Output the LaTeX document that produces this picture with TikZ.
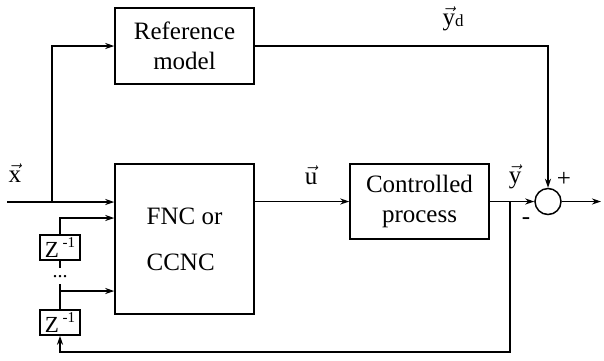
\documentclass[tikz,border=0pt]{standalone}
\usepackage{amsmath}
\usepackage{fontspec}
\setmainfont{Liberation Serif}
\usetikzlibrary{arrows.meta}
\tikzset{
  blk/.style={draw, line width=1.5pt, rectangle, inner sep=0pt, font=\fontsize{25}{30}\selectfont, align=center},
  zbox/.style={draw, line width=1.5pt, rectangle, inner sep=0pt, minimum width=40pt, minimum height=25pt, font=\fontsize{23}{24}\selectfont},
  conn/.style={line width=1.5pt},
  arr/.style={line width=1.5pt, -{Stealth[length=9pt,width=6pt]}},
  lbl/.style={inner sep=0pt, font=\fontsize{25}{26}\selectfont},
}
\newcommand\tvec[1]{$\vec{\text{#1}}$}
\begin{document}
\begin{tikzpicture}[x=1pt,y=-1pt]
\useasboundingbox (0,0) rectangle (604,360);
\node[blk, minimum width=139pt, minimum height=76pt] (ref) at (184.5,46) {Reference\\model};
\node[blk, minimum width=139pt, minimum height=150pt, align=left] (fnc) at (184.5,239) {FNC or\\[16pt]CCNC};
\node[blk, minimum width=139pt, minimum height=75pt] (cp) at (419.5,201.5) {Controlled\\process};
\node[draw, line width=1.5pt, circle, minimum size=26pt, inner sep=0pt] (sum) at (548,201.5) {};
\node[zbox] (z1) at (60,247.5) {Z\,\raisebox{0.42em}{\fontsize{15}{16}\selectfont -1}};
\node[zbox] (z2) at (60,322.5) {Z\,\raisebox{0.42em}{\fontsize{15}{16}\selectfont -1}};
\node[inner sep=0pt, font=\fontsize{20}{20}\selectfont] (dots) at (60,277) {...};
\coordinate (in) at (7,202);
\coordinate (br) at (52,202);
\coordinate (out) at (601,201.5);
\coordinate (fb) at (510,201.5);
\coordinate (fbb) at (510,352);
\coordinate (t1) at (60,218);
\coordinate (t2) at (60,291);
\coordinate (d1) at (60,268);
\coordinate (d2) at (60,284);
% connectors
\draw[arr] (in) -- (fnc.west |- in);
\draw[arr] (br) |- (ref.west);
\draw[arr] (ref.east) -| (sum.north);
\draw[arr] (fnc.east |- cp.west) -- (cp.west);
\draw[arr] (cp.east) -- (sum.west);
\draw[arr] (sum.east) -- (out);
\draw[arr] (fb) -- (fbb) -| (z2.south);
\draw[arr] (z1.north) |- (fnc.west |- t1);
\draw[conn] (z1.south) -- (d1);
\draw[conn] (d2) -- (z2.north);
\draw[arr] (t2) -- (fnc.west |- t2);
% labels
\node[lbl] (lx) at (15,173) {\tvec{x}};
\node[lbl] (lu) at (311,175) {\tvec{u}};
\node[lbl] (ly) at (515,177) {\tvec{y}};
\node[lbl] (lyd) at (453,19) {$\vec{\text{y}}$\raisebox{-0.05em}{\fontsize{17}{17}\selectfont d}};
\node[lbl] (plus) at (564,179) {+};
\node[lbl] (minus) at (526,221) {-};
\end{tikzpicture}
\end{document}
